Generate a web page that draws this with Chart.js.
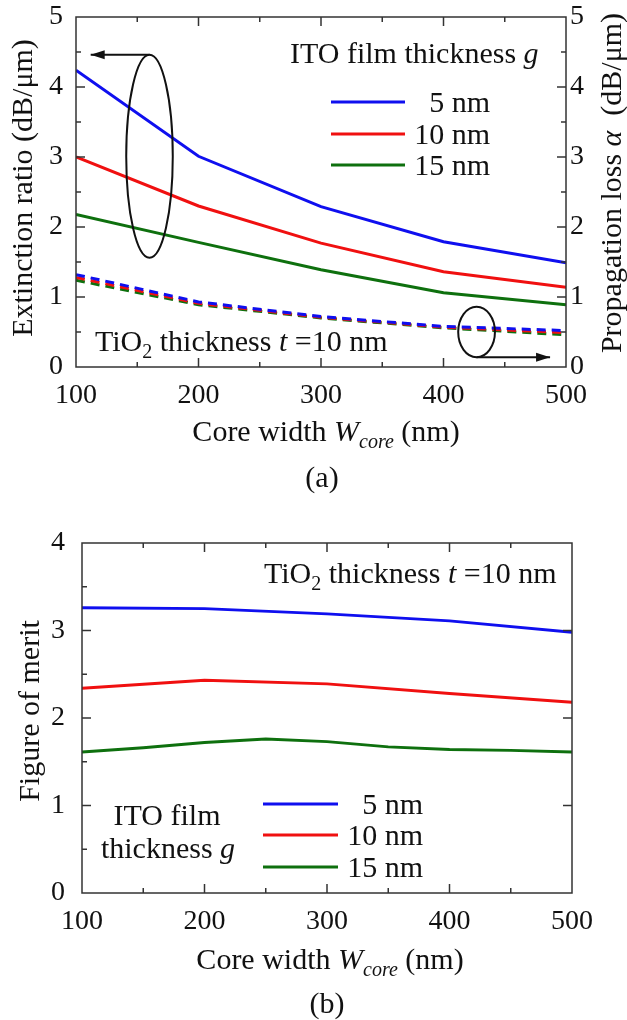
<!DOCTYPE html>
<html>
<head>
<title>Extinction ratio and figure of merit</title>
<script src="https://cdn.jsdelivr.net/npm/chart.js"></script>
<style>
  body { margin: 0; background: #fff; }
  .panel { position: absolute; left: 0; width: 627px; }
  #panelA { top: 0; height: 500px; }
  #panelB { top: 500px; height: 520px; }
</style>
</head>
<body>
<div id="panelA" class="panel"><canvas id="chartA" width="627" height="500"></canvas></div>
<div id="panelB" class="panel"><canvas id="chartB" width="627" height="520"></canvas></div>
<script>
// core width (nm)
const coreWidth = [100, 200, 300, 400, 500];
const coreWidthFine = [100, 150, 200, 250, 300, 350, 400, 450, 500];

// (a) extinction ratio, dB/um (left axis)
const extinction5 = [4.24, 3.01, 2.29, 1.79, 1.49];
const extinction10 = [3.00, 2.30, 1.77, 1.36, 1.14];
const extinction15 = [2.18, 1.78, 1.39, 1.06, 0.89];
// (a) propagation loss, dB/um (right axis)
const loss5 = [1.32, 0.93, 0.72, 0.58, 0.52];
const loss10 = [1.28, 0.91, 0.71, 0.57, 0.49];
const loss15 = [1.24, 0.89, 0.70, 0.56, 0.46];

// (b) figure of merit
const fom5 = [3.26, 3.25, 3.19, 3.11, 2.98];
const fom10 = [2.34, 2.43, 2.39, 2.28, 2.18];
const fom15 = [1.61, 1.66, 1.72, 1.76, 1.73, 1.67, 1.64, 1.63, 1.61];

const xTicksA = [100, 200, 300, 400, 500];
const legendLabels = ['5 nm', '10 nm', '15 nm'];

const FONT = "'Liberation Serif', 'Times New Roman', serif";
const SIZE = 29.5;
const TICK_SIZE = 28;
const COLORS = ['#0f0fef', '#f01010', '#0e700e'];

function pts(xs, ys) { return xs.map((x, i) => ({ x: x, y: ys[i] })); }

function solid(data, color) {
    return { data: data, borderColor: color, borderWidth: 3, pointRadius: 0, fill: false, yAxisID: 'y' };
}
function dashed(data, color) {
    return { data: data, borderColor: color, borderWidth: 3, borderDash: [9, 6], pointRadius: 0, fill: false, yAxisID: 'y2' };
}

// text with italic / subscript parts
function richText(ctx, parts, x, y, align) {
    const fontFor = s => (s.indexOf('i') >= 0 ? 'italic ' : '') + Math.round(s.indexOf('sub') >= 0 ? SIZE * 0.68 : SIZE) + 'px ' + FONT;
    let total = 0;
    parts.forEach(([t, s]) => { ctx.font = fontFor(s); total += ctx.measureText(t).width; });
    let cx = align === 'center' ? x - total / 2 : align === 'right' ? x - total : x;
    ctx.textAlign = 'left';
    ctx.textBaseline = 'alphabetic';
    ctx.fillStyle = '#111';
    parts.forEach(([t, s]) => {
        ctx.font = fontFor(s);
        ctx.fillText(t, cx, y + (s.indexOf('sub') >= 0 ? SIZE * 0.25 : 0));
        cx += ctx.measureText(t).width;
    });
}

function rotated(ctx, parts, x, y) {
    ctx.save();
    ctx.translate(x, y);
    ctx.rotate(-Math.PI / 2);
    richText(ctx, parts, 0, 0, 'center');
    ctx.restore();
}

function line(ctx, x1, y1, x2, y2) {
    ctx.beginPath(); ctx.moveTo(x1, y1); ctx.lineTo(x2, y2); ctx.stroke();
}

// box round the plot, inward ticks on all sides
function drawFrame(chart, xStep, yStep, rightMinor) {
    const { ctx, chartArea: a, scales } = chart;
    const x = scales.x, y = scales.y;
    ctx.save();
    ctx.strokeStyle = '#333';
    ctx.lineWidth = 1.5;
    ctx.strokeRect(a.left, a.top, a.right - a.left, a.bottom - a.top);
    for (let v = x.min + xStep / 2, k = 1; v < x.max; v += xStep / 2, k++) {
        const px = x.getPixelForValue(v), len = k % 2 ? 5 : 9;
        line(ctx, px, a.bottom, px, a.bottom - len);
        line(ctx, px, a.top, px, a.top + len);
    }
    for (let v = y.min + yStep / 2, k = 1; v < y.max; v += yStep / 2, k++) {
        const py = y.getPixelForValue(v), len = k % 2 ? 5 : 9;
        line(ctx, a.left, py, a.left + len, py);
        if (rightMinor || k % 2 === 0) line(ctx, a.right, py, a.right - len, py);
    }
    ctx.restore();
}

function legendLines(ctx, x1, x2, ys, labelRight) {
    ys.forEach((yy, i) => {
        ctx.strokeStyle = COLORS[i];
        ctx.lineWidth = 3;
        line(ctx, x1, yy, x2, yy);
        richText(ctx, [[legendLabels[i], '']], labelRight, yy + 10, 'right');
    });
}

function arrow(ctx, x1, y1, x2, y2) {
    ctx.lineWidth = 2;
    line(ctx, x1, y1, x2, y2);
    const ang = Math.atan2(y2 - y1, x2 - x1);
    ctx.beginPath();
    ctx.moveTo(x2, y2);
    ctx.lineTo(x2 - 14 * Math.cos(ang) + 4.5 * Math.sin(ang), y2 - 14 * Math.sin(ang) - 4.5 * Math.cos(ang));
    ctx.lineTo(x2 - 14 * Math.cos(ang) - 4.5 * Math.sin(ang), y2 - 14 * Math.sin(ang) + 4.5 * Math.cos(ang));
    ctx.closePath();
    ctx.fill();
}

// ellipse marks: centre x, centre y, radius x, radius y (data units); arrow tip x, y
const ellipseLeft = { cx: 160, cy: 3.01, rx: 19, ry: 1.45, ax: 112, ay: 4.46 };
const ellipseRight = { cx: 427, cy: 0.5, rx: 15, ry: 0.36, ax: 487, ay: 0.14 };

function drawEllipse(ctx, x, y, E) {
    const cx = x.getPixelForValue(E.cx), cy = y.getPixelForValue(E.cy);
    const rx = x.getPixelForValue(E.cx + E.rx) - cx, ry = cy - y.getPixelForValue(E.cy + E.ry);
    ctx.lineWidth = 2;
    ctx.beginPath(); ctx.ellipse(cx, cy, rx, ry, 0, 0, Math.PI * 2); ctx.stroke();
    arrow(ctx, cx, y.getPixelForValue(E.ay), x.getPixelForValue(E.ax), y.getPixelForValue(E.ay));
}

const decorA = {
    id: 'decorA',
    afterDraw(chart) {
        const { ctx, scales } = chart;
        drawFrame(chart, 100, 1, true);
        ctx.save();
        ctx.strokeStyle = '#111';
        ctx.fillStyle = '#111';
        drawEllipse(ctx, scales.x, scales.y, ellipseLeft);
        drawEllipse(ctx, scales.x, scales.y, ellipseRight);

        richText(ctx, [['ITO film thickness ', ''], ['g', 'i']], 290, 63, 'left');
        legendLines(ctx, 331, 405, [102, 134, 165], 490);
        richText(ctx, [['TiO', ''], ['2', 'sub'], [' thickness ', ''], ['t', 'i'], [' =10 nm', '']], 95, 351, 'left');

        rotated(ctx, [['Extinction ratio (dB/\u03bcm)', '']], 32, 188);
        rotated(ctx, [['Propagation loss ', ''], ['\u03b1', 'i'], ['  (dB/\u03bcm)', '']], 621, 183);
        richText(ctx, [['Core width ', ''], ['W', 'i'], ['core', 'isub'], [' (nm)', '']], 326, 441, 'center');
        richText(ctx, [['(a)', '']], 322, 487, 'center');
        ctx.restore();
    }
};

const decorB = {
    id: 'decorB',
    afterDraw(chart) {
        const { ctx } = chart;
        drawFrame(chart, 100, 1, false);
        ctx.save();
        richText(ctx, [['TiO', ''], ['2', 'sub'], [' thickness ', ''], ['t', 'i'], [' =10 nm', '']], 264, 83, 'left');
        richText(ctx, [['ITO film', '']], 167, 325, 'center');
        richText(ctx, [['thickness ', ''], ['g', 'i']], 168, 358, 'center');
        legendLines(ctx, 263, 338, [304, 335, 367], 423);
        rotated(ctx, [['Figure of merit', '']], 39, 211);
        richText(ctx, [['Core width ', ''], ['W', 'i'], ['core', 'isub'], [' (nm)', '']], 330, 469, 'center');
        richText(ctx, [['(b)', '']], 327, 513, 'center');
        ctx.restore();
    }
};

function tickFont() { return { family: FONT, size: TICK_SIZE }; }

function xScale(height) {
    return {
        type: 'linear', min: 100, max: 500,
        afterBuildTicks: s => { s.ticks = xTicksA.map(v => ({ value: v })); },
        afterFit: s => { s.height = height; s.paddingLeft = 0; s.paddingRight = 0; },
        ticks: { font: tickFont(), color: '#111', padding: 12, maxRotation: 0, autoSkip: false },
        grid: { display: false, drawTicks: false },
        border: { display: false }
    };
}

function yScale(max, pad, position, width) {
    return {
        type: 'linear', min: 0, max: max, position: position,
        afterFit: s => { s.width = width; s.paddingTop = 0; s.paddingBottom = 0; },
        ticks: { stepSize: 1, font: tickFont(), color: '#111', padding: pad },
        grid: { display: false, drawTicks: false },
        border: { display: false }
    };
}

const commonOptions = {
    responsive: false,
    animation: false,
    plugins: { legend: { display: false }, tooltip: { enabled: false } }
};

new Chart(document.getElementById('chartA'), {
    type: 'line',
    data: {
        datasets: [
            dashed(pts(coreWidth, loss5), COLORS[0]),
            dashed(pts(coreWidth, loss10), COLORS[1]),
            dashed(pts(coreWidth, loss15), COLORS[2]),
            solid(pts(coreWidth, extinction5), COLORS[0]),
            solid(pts(coreWidth, extinction10), COLORS[1]),
            solid(pts(coreWidth, extinction15), COLORS[2])
        ]
    },
    options: {
        ...commonOptions,
        layout: { padding: { top: 17 } },
        scales: { x: xScale(133), y: yScale(5, 13, 'left', 76), y2: yScale(5, 4, 'right', 61) }
    },
    plugins: [decorA]
});

new Chart(document.getElementById('chartB'), {
    type: 'line',
    data: {
        datasets: [
            solid(pts(coreWidth, fom5), COLORS[0]),
            solid(pts(coreWidth, fom10), COLORS[1]),
            solid(pts(coreWidthFine, fom15), COLORS[2])
        ]
    },
    options: {
        ...commonOptions,
        layout: { padding: { top: 43, right: 55 } },
        scales: { x: xScale(127), y: yScale(4, 17, 'left', 82) }
    },
    plugins: [decorB]
});
</script>
</body>
</html>
